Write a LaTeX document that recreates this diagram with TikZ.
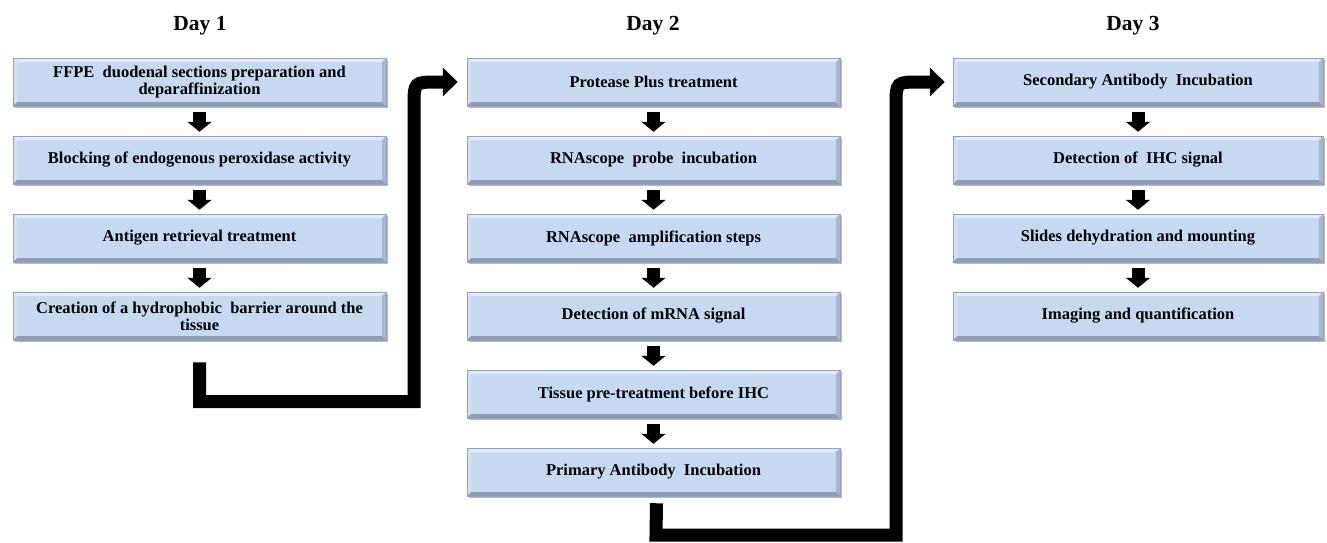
\documentclass[tikz,border=0pt]{standalone}
\usepackage{fontspec}
\setmainfont{Liberation Serif}
\usetikzlibrary{arrows.meta,shadows}
\definecolor{boxfill}{HTML}{C6D9F1}
\definecolor{boxedge}{HTML}{8FA3BC}
\definecolor{bevtop}{HTML}{E3ECF8}
\definecolor{bevleft}{HTML}{D3E1F3}
\definecolor{bevbot}{HTML}{8E9EB4}
\definecolor{bevright}{HTML}{A6B8CF}
\newcommand\bevelbox{%
  \fill[bevtop] (path picture bounding box.north west) -- (path picture bounding box.north east)
    -- ([xshift=-4pt,yshift=-4pt]path picture bounding box.north east) -- ([xshift=4pt,yshift=-4pt]path picture bounding box.north west) -- cycle;
  \fill[bevleft] (path picture bounding box.north west) -- (path picture bounding box.south west)
    -- ([xshift=4pt,yshift=4pt]path picture bounding box.south west) -- ([xshift=4pt,yshift=-4pt]path picture bounding box.north west) -- cycle;
  \fill[bevbot] (path picture bounding box.south west) -- (path picture bounding box.south east)
    -- ([xshift=-4pt,yshift=4pt]path picture bounding box.south east) -- ([xshift=4pt,yshift=4pt]path picture bounding box.south west) -- cycle;
  \fill[bevright] (path picture bounding box.north east) -- (path picture bounding box.south east)
    -- ([xshift=-4pt,yshift=4pt]path picture bounding box.south east) -- ([xshift=-4pt,yshift=-4pt]path picture bounding box.north east) -- cycle;
}
\begin{document}
\begin{tikzpicture}[x=1pt,y=-1pt,
  stepbox/.style={minimum width=373pt, minimum height=48pt, inner sep=2pt,
    fill=boxfill, draw=boxedge, line width=0.5pt, align=center,
    font=\bfseries\fontsize{16.5}{17}\selectfont,
    drop shadow={shadow xshift=1.5pt, shadow yshift=-2pt, fill=black!45, opacity=0.6},
    path picture={\bevelbox}},
  daylabel/.style={font=\bfseries\fontsize{21.5}{24}\selectfont},
  smallarrow/.style={line width=13pt, -{Triangle[length=10pt,width=24pt]}, shorten <=6pt, shorten >=4pt},
  bigconn/.style={line width=13pt, line join=miter, -{Triangle[length=15pt,width=28pt]}}
]
\useasboundingbox (0,0) rectangle (1327,543);

% Day labels
\node[daylabel] (d1) at (200,26) {Day 1};
\node[daylabel] (d2) at (653,26) {Day 2};
\node[daylabel] (d3) at (1133,26) {Day 3};

% Day 1
\node[stepbox] (a1) at (199.5,82) {FFPE\ \ duodenal sections preparation and\\deparaffinization};
\node[stepbox] (a2) at (199.5,160) {Blocking of endogenous peroxidase activity};
\node[stepbox] (a3) at (199.5,238) {Antigen retrieval treatment};
\node[stepbox] (a4) at (199.5,316) {Creation of a hydrophobic\ \ barrier around the\\tissue};

% Day 2
\node[stepbox] (b1) at (653.5,82) {Protease Plus treatment};
\node[stepbox] (b2) at (653.5,160) {RNAscope\ \ probe\ \ incubation};
\node[stepbox] (b3) at (653.5,238) {RNAscope\ \ amplification steps};
\node[stepbox] (b4) at (653.5,316) {Detection of mRNA signal};
\node[stepbox] (b5) at (653.5,394) {Tissue pre-treatment before IHC};
\node[stepbox] (b6) at (653.5,472) {Primary Antibody\ \ Incubation};

% Day 3
\node[stepbox, minimum width=370pt] (c1) at (1138,82) {Secondary Antibody\ \ Incubation};
\node[stepbox, minimum width=370pt] (c2) at (1138,160) {Detection of\ \ IHC signal};
\node[stepbox, minimum width=370pt] (c3) at (1138,238) {Slides dehydration and mounting};
\node[stepbox, minimum width=370pt] (c4) at (1138,316) {Imaging and quantification};

% small arrows
\draw[smallarrow] (a1.south) -- (a2.north);
\draw[smallarrow] (a2.south) -- (a3.north);
\draw[smallarrow] (a3.south) -- (a4.north);
\draw[smallarrow] (b1.south) -- (b2.north);
\draw[smallarrow] (b2.south) -- (b3.north);
\draw[smallarrow] (b3.south) -- (b4.north);
\draw[smallarrow] (b4.south) -- (b5.north);
\draw[smallarrow] (b5.south) -- (b6.north);
\draw[smallarrow] (c1.south) -- (c2.north);
\draw[smallarrow] (c2.south) -- (c3.north);
\draw[smallarrow] (c3.south) -- (c4.north);

% big connectors
\coordinate (k1a) at (199.5,401.5);
\coordinate (k1b) at (414,401.5);
\coordinate (k1c) at (414,106);
\coordinate (k1d) at (438,82);
\draw[bigconn, shorten <=22pt, shorten >=9pt] (a4.south) -- (k1a) -- (k1b) -- (k1c)
  .. controls (414,82) .. (k1d) -- (b1.west);

\coordinate (k2a) at (656,535);
\coordinate (k2b) at (896,535);
\coordinate (k2c) at (896,106);
\coordinate (k2d) at (920,82);
\draw[bigconn, shorten >=8pt] ([xshift=3pt,yshift=-7pt]b6.south) -- (k2a) -- (k2b) -- (k2c)
  .. controls (896,82) .. (k2d) -- (c1.west);
\end{tikzpicture}
\end{document}
